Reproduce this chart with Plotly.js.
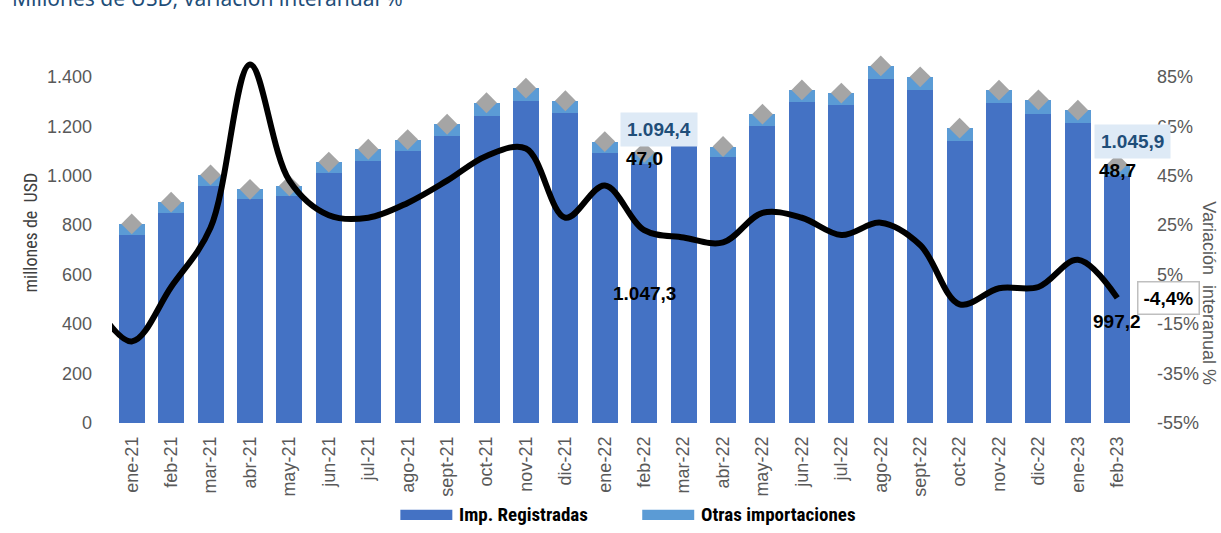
<!DOCTYPE html>
<html>
<head>
<meta charset="utf-8">
<script src="https://cdn.plot.ly/plotly-3.0.1.min.js"></script>
<style>
  html, body { margin: 0; padding: 0; background: #ffffff; overflow: hidden; }
  #chart { width: 1221px; height: 533px; }
</style>
</head>
<body>
<div id="chart"></div>
<script>
// ---- data ----
const categories = ["ene-21","feb-21","mar-21","abr-21","may-21","jun-21","jul-21","ago-21","sept-21","oct-21","nov-21","dic-21",
  "ene-22","feb-22","mar-22","abr-22","may-22","jun-22","jul-22","ago-22","sept-22","oct-22","nov-22","dic-22","ene-23","feb-23"];
const impRegistradas = [761, 850, 960, 904, 916, 1011, 1061, 1100, 1160, 1243, 1303, 1253,
  1091, 1047.3, 1135, 1074, 1199, 1300, 1284, 1392, 1347, 1142, 1292, 1251, 1215, 997.2];
const otrasImportaciones = [44, 43, 43, 41, 43, 44, 46, 46, 48, 52, 51, 50,
  47, 47.0, 45, 44, 50, 47, 50, 52, 53, 50, 54, 56, 50, 48.7];
const totalImportaciones = [805, 893, 1003, 945, 959, 1055, 1107, 1146, 1208, 1295, 1354, 1303,
  1138, 1094.4, 1180, 1118, 1249, 1347, 1334, 1444, 1400, 1192, 1346, 1307, 1265, 1045.9];
const prevMonthLabel = "dic-20";
const prevMonthVar = -5;
const variacionInteranual = [-22, 0, 24, 90, 43, 29, 28, 34, 43, 53, 56, 28,
  41, 23, 20, 18, 30, 28, 21, 26, 17, -7, -0.5, 0, 11, -4.4];
const leftTickVals = [0, 200, 400, 600, 800, 1000, 1200, 1400];
const rightTickVals = [-55, -35, -15, 5, 25, 45, 65, 85];
const labelledMonths = ["feb-22", "feb-23"];

// ---- helpers ----
function fmtEs(v, dec) {
  const neg = v < 0;
  const parts = Math.abs(v).toFixed(dec).split(".");
  const intPart = parts[0].replace(/\B(?=(\d{3})+(?!\d))/g, ".");
  return (neg ? "-" : "") + (dec > 0 ? intPart + "," + parts[1] : intPart);
}
const idx = categories.map((c, i) => i);
const lineX = [-1].concat(idx);
const lineY = [prevMonthVar].concat(variacionInteranual);

const BLUE = "#4472C4", LIGHT = "#5B9BD5", GRAY = "#A5A5A5";
const TICKFONT = {family: "Liberation Sans, Arial, sans-serif", size: 18, color: "#595959"};
const NARROW = "Liberation Sans Narrow, Arial Narrow, Roboto Condensed, DejaVu Sans Condensed, sans-serif";
const BOLD = "Liberation Sans, Arial, sans-serif";

const traces = [
  {type: "bar", name: "Imp. Registradas", x: idx, y: impRegistradas, marker: {color: BLUE}, showlegend: false, hoverinfo: "skip"},
  {type: "bar", name: "Otras importaciones", x: idx, y: otrasImportaciones, marker: {color: LIGHT}, showlegend: false, hoverinfo: "skip"},
  {type: "scatter", mode: "markers", name: "Total", x: idx, y: totalImportaciones,
    marker: {symbol: "diamond", size: 16, color: GRAY}, showlegend: false, hoverinfo: "skip", cliponaxis: false},
  {type: "scatter", mode: "lines", name: "Variación interanual", x: lineX, y: lineY, yaxis: "y2",
    line: {color: "#000000", width: 6, shape: "spline", smoothing: 1}, showlegend: false, hoverinfo: "skip"}
];

const annotations = [];
labelledMonths.forEach(m => {
  const i = categories.indexOf(m);
  annotations.push({x: i, y: totalImportaciones[i], xref: "x", yref: "y", text: "<b>" + fmtEs(totalImportaciones[i], 1) + "</b>",
    showarrow: false, xshift: 15, yshift: 23, bgcolor: "#DEEAF6", borderpad: 6,
    font: {family: BOLD, size: 19, color: "#1F4E79"}});
  annotations.push({x: i, y: totalImportaciones[i], xref: "x", yref: "y", text: "<b>" + fmtEs(otrasImportaciones[i], 1) + "</b>",
    showarrow: false, yshift: -6, font: {family: BOLD, size: 19, color: "#000000"}});
});
{
  const i = categories.indexOf("feb-22");
  annotations.push({x: i, y: impRegistradas[i] / 2, xref: "x", yref: "y", text: "<b>" + fmtEs(impRegistradas[i], 1) + "</b>",
    showarrow: false, font: {family: BOLD, size: 19, color: "#000000"}});
  const j = categories.indexOf("feb-23");
  annotations.push({x: j, y: impRegistradas[j] / 2, xref: "x", yref: "y", text: "<b>" + fmtEs(impRegistradas[j], 1) + "</b>",
    showarrow: false, yshift: -22, font: {family: BOLD, size: 19, color: "#000000"}});
  annotations.push({x: j, y: variacionInteranual[j], xref: "x", yref: "y2", text: "<b>" + fmtEs(variacionInteranual[j], 1) + "%</b>",
    showarrow: false, xshift: 51, bgcolor: "#FFFFFF", bordercolor: "#BFBFBF", borderwidth: 1.5, borderpad: 5,
    font: {family: BOLD, size: 19, color: "#000000"}});
}
// cropped chart heading (only its lower part shows at the top edge)
annotations.push({xref: "paper", yref: "paper", x: -0.1, y: 1.161, xanchor: "left", yanchor: "middle", showarrow: false,
  text: "Millones de USD; variación interanual %", font: {family: "Noto Sans, sans-serif", size: 21, color: "#1F4E79"}});
// axis titles
annotations.push({xref: "paper", yref: "paper", x: -0.0795, y: 0.519, xanchor: "center", yanchor: "middle",
  text: "millones de  USD", textangle: -90, showarrow: false, font: {family: NARROW, size: 18, color: "#404040"}});
annotations.push({xref: "paper", yref: "paper", x: 1.07, y: 0.355, xanchor: "center", yanchor: "middle",
  text: "Variación  interanual %", textangle: 90, showarrow: false, font: {family: TICKFONT.family, size: 18, color: "#595959"}});
// custom legend
const legendItems = [{name: "Imp. Registradas", color: BLUE, x0: 400}, {name: "Otras importaciones", color: LIGHT, x0: 642}];
const shapes = [];
legendItems.forEach(it => {
  shapes.push({type: "rect", xref: "paper", yref: "paper", x0: (it.x0 - 111.5) / 1025.5, x1: (it.x0 + 52 - 111.5) / 1025.5,
    y0: -0.265, y1: -0.237, fillcolor: it.color, line: {width: 0}});
  annotations.push({xref: "paper", yref: "paper", x: (it.x0 + 57 - 111.5) / 1025.5, y: -0.251, xanchor: "left", yanchor: "middle",
    text: "<b>" + it.name + "</b>", showarrow: false, font: {family: NARROW, size: 19, color: "#000000"}});
});

const layout = {
  width: 1221, height: 533,
  margin: {l: 111.5, r: 84, t: 57, b: 110, pad: 0},
  paper_bgcolor: "#FFFFFF", plot_bgcolor: "#FFFFFF",
  barmode: "stack", bargap: 0.34,
  separators: ",.",
  showlegend: false,
  xaxis: {range: [-0.5, 25.5], tickvals: idx, ticktext: categories, tickangle: -90, showgrid: false, zeroline: false,
    showline: false, ticks: "", tickfont: TICKFONT, ticklabelstandoff: 9, fixedrange: true},
  yaxis: {range: [0, 1480], tickvals: leftTickVals, tickformat: ",.0f", showgrid: false, zeroline: false, showline: false,
    ticks: "", tickfont: TICKFONT, ticklabelstandoff: 19},
  yaxis2: {overlaying: "y", side: "right", range: [-55, 93], tickvals: rightTickVals,
    ticktext: rightTickVals.map(v => v + "%"), showgrid: false, zeroline: false, showline: false, ticks: "",
    tickfont: TICKFONT, ticklabelstandoff: 19},
  annotations: annotations,
  shapes: shapes
};

Plotly.newPlot("chart", traces, layout, {displayModeBar: false, staticPlot: true});
</script>
</body>
</html>
